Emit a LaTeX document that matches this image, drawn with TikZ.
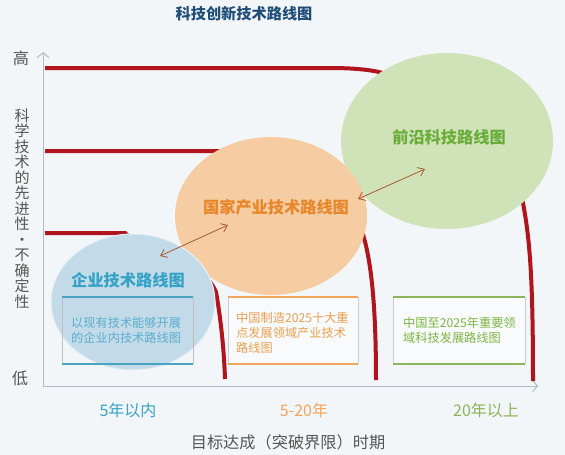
\documentclass[tikz,border=0pt]{standalone}
\usepackage{fontspec}
\setmainfont{Noto Sans CJK SC}
\usetikzlibrary{arrows.meta,shapes.geometric}
\definecolor{bgc}{HTML}{F3F6F8}
\definecolor{titlec}{HTML}{1F4E79}
\definecolor{axisc}{HTML}{B4BCC4}
\definecolor{redc}{HTML}{B0151E}
\definecolor{bluefill}{HTML}{C3DAE8}
\definecolor{orangefill}{HTML}{F6CDA3}
\definecolor{greenfill}{HTML}{CFE2B8}
\definecolor{bluetxt}{HTML}{36A3C6}
\definecolor{orangetxt}{HTML}{E8862A}
\definecolor{greentxt}{HTML}{6AAE3A}
\definecolor{bluebox}{HTML}{4BA3C3}
\definecolor{orangebox}{HTML}{EFA55A}
\definecolor{greenbox}{HTML}{8DB45A}
\definecolor{boxtxtb}{HTML}{5AAECF}
\definecolor{boxtxto}{HTML}{E9A050}
\definecolor{boxtxtg}{HTML}{7DB544}
\definecolor{arrc}{HTML}{A85A30}
\definecolor{labc}{HTML}{555555}
\tikzset{
  redline/.style={draw=redc, line width=4pt},
  axisline/.style={draw=axisc, line width=1pt},
  blob/.style={ellipse, draw=none, inner sep=0pt},
  circtext/.style={font=\bfseries\fontsize{16.2}{18}\selectfont},
  boxtext/.style={font=\fontsize{12.2}{15}\selectfont, align=left, anchor=west, inner sep=0pt},
  linkarrow/.style={draw=arrc, line width=0.8pt, {Straight Barb[length=6pt,width=9pt]}-{Straight Barb[length=6pt,width=9pt]}},
  ticklab/.style={font=\fontsize{16}{18}\selectfont},
  sidetxt/.style={font=\fontsize{16.2}{18}\selectfont, text=labc}
}
\begin{document}
\begin{tikzpicture}[x=1pt,y=-1pt]
\useasboundingbox (0,0) rectangle (565,455);
\fill[bgc] (0,0) rectangle (565,455);
% title
\node[font=\bfseries\fontsize{15.2}{17}\selectfont, text=titlec] (title) at (244,14) {科技创新技术路线图};
% axes
\coordinate (origin) at (43,386);
\coordinate (ytop) at (43,52);
\coordinate (xend) at (538,386);
\draw[axisline, -{Straight Barb[length=5pt,width=12pt]}] (origin) -- (ytop);
\draw[axisline, -{Straight Barb[length=5pt,width=12pt]}] (origin) -- (xend);
% red lines (partly hidden behind ellipses)
\coordinate (r1s) at (45,68);
\coordinate (r1e) at (533,381);
\coordinate (r2s) at (45,151);
\coordinate (r2e) at (376,380);
\coordinate (r3s) at (45,233);
\coordinate (r3e) at (225,379);
\draw[redline] (r1s) -- (330,68) .. controls (355,68) and (370,70) .. (379,72)
  .. controls (470,95) and (515,150) .. (523,203)
  .. controls (530,240) and (533,280) .. (r1e);
\draw[redline] (r2s) -- (218,151) .. controls (300,160) and (355,200) .. (364,238)
  .. controls (373,270) and (376,320) .. (r2e);
\draw[redline] (r3s) -- (125,233) .. controls (140,250) and (200,255) .. (216,292)
  .. controls (221,320) and (224,350) .. (r3e);
% ellipses
\node[blob, fill=greenfill, minimum width=212pt, minimum height=176pt] (green) at (447,141) {};
\node[blob, fill=orangefill, minimum width=192pt, minimum height=158pt] (orange) at (271,216) {};
\node[blob, fill=bluefill, minimum width=164pt, minimum height=136pt, draw=white!60!bluefill, line width=1pt] (blue) at (133,302) {};
% ellipse titles
\node[circtext, text=greentxt] (gt) at (449,137) {前沿科技路线图};
\node[circtext, text=orangetxt] (ot) at (276,207) {国家产业技术路线图};
\node[circtext, text=bluetxt] (bt) at (128,280) {企业技术路线图};
% arrows
\coordinate (a1) at (160,256);
\coordinate (a2) at (228,225);
\coordinate (a3) at (358,199);
\coordinate (a4) at (425,169);
\draw[linkarrow] (a1) -- (a2);
\draw[linkarrow] (a3) -- (a4);
% boxes
\draw[draw=black!25, line width=0.5pt] (62,297) -- (62,364) (193,297) -- (193,364);
\draw[bluebox, line width=1.5pt] (62,297) -- (193,297) (62,364) -- (193,364);
\fill[white, opacity=0.45] (228,297) rectangle (358,364);
\draw[draw=black!20, line width=0.5pt] (228,297) -- (228,364) (358,297) -- (358,364);
\draw[orangebox, line width=1.5pt] (228,297) -- (358,297) (228,364) -- (358,364);
\fill[white, opacity=0.45] (393,297) rectangle (525,364);
\draw[draw=black!20, line width=0.5pt] (393,297) -- (393,364) (525,297) -- (525,364);
\draw[greenbox, line width=1.5pt] (393,297) -- (525,297) (393,364) -- (525,364);
\node[boxtext, text=boxtxtb] (b1) at (71,330) {以现有技术能够开展\\的企业内技术路线图};
\node[boxtext, text=boxtxto] (b2) at (236,333) {中国制造2025十大重\\点发展领域产业技术\\路线图};
\node[boxtext, text=boxtxtg] (b3) at (403,330.5) {中国至2025年重要领\\域科技发展路线图};
% axis labels
\node[sidetxt] (hi) at (21,58) {高};
\node[sidetxt] (lo) at (20,378) {低};
\node[sidetxt, align=center, font=\fontsize{15}{15.5}\selectfont] (ylab) at (22,208.5) {科\\学\\技\\术\\的\\先\\进\\性\\·\\不\\确\\定\\性};
\node[ticklab, text=bluetxt] (t1) at (128,410) {5年以内};
\node[ticklab, text=orangebox] (t2) at (304,410) {5-20年};
\node[ticklab, text=greenbox] (t3) at (486,410) {20年以上};
\node[sidetxt] (xlab) at (288,442) {目标达成（突破界限）时期};
\end{tikzpicture}
\end{document}
